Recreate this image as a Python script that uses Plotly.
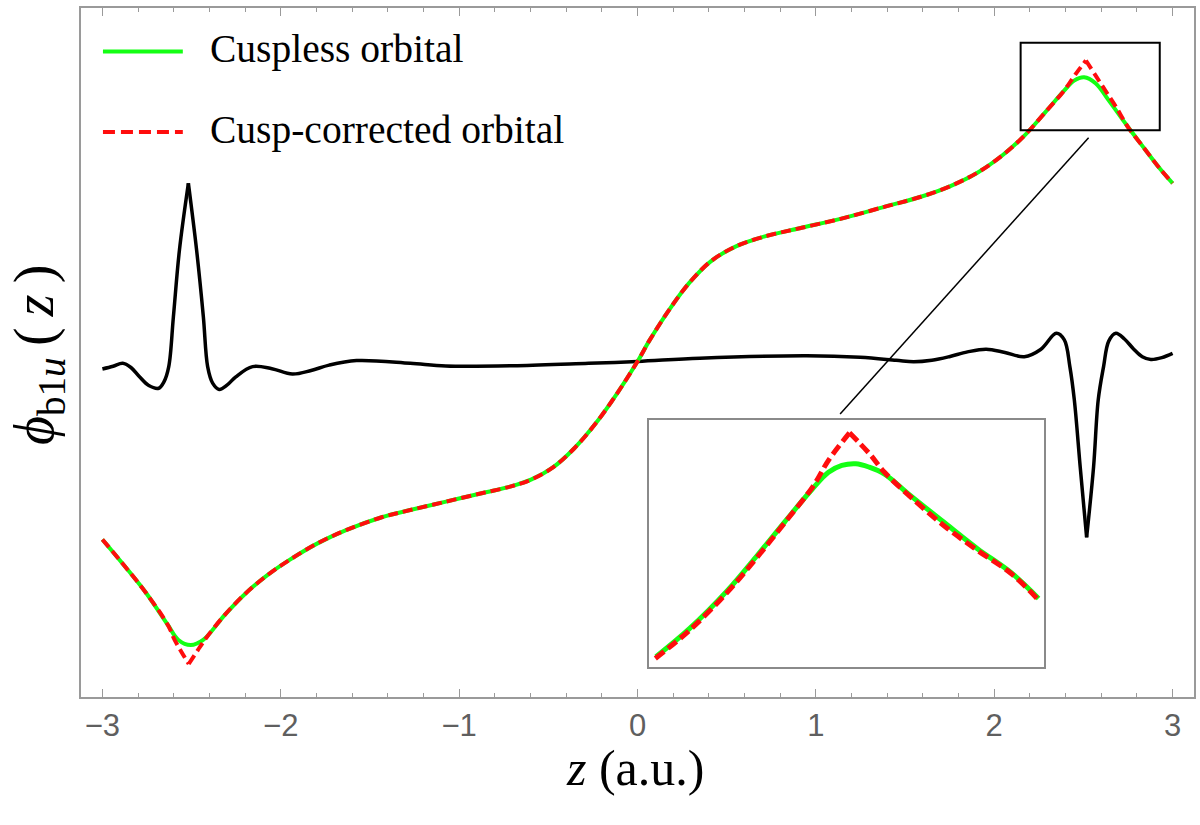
import plotly.graph_objects as go

# ---------------- data ----------------
# Cuspless orbital (green)
z_cuspless = [-3.0, -2.872, -2.753, -2.633, -2.574, -2.505, -2.435, -2.315, -2.196, -2.075,
              -1.953, -1.794, -1.634, -1.434, -1.274, -1.074, -0.874, -0.714, -0.594, -0.474,
              -0.354, -0.234, -0.114, 0.0, 0.069, 0.190, 0.289, 0.409, 0.549, 0.709,
              0.909, 1.149, 1.388, 1.589, 1.748, 1.908, 2.048, 2.168, 2.288, 2.388,
              2.448, 2.504, 2.568, 2.647, 2.748, 2.848, 2.927, 3.0]
phi_cuspless = [-0.593, -0.684, -0.773, -0.878, -0.928, -0.945, -0.928, -0.845, -0.772, -0.712,
                -0.662, -0.606, -0.562, -0.519, -0.495, -0.467, -0.439, -0.417, -0.393, -0.353,
                -0.289, -0.206, -0.106, 0.0, 0.072, 0.183, 0.261, 0.333, 0.383, 0.416,
                0.444, 0.477, 0.516, 0.549, 0.583, 0.630, 0.688, 0.752, 0.832, 0.900,
                0.936, 0.947, 0.927, 0.866, 0.783, 0.705, 0.644, 0.594]

# Cusp-corrected orbital (red dashed)
z_corrected = [-3.0, -2.872, -2.753, -2.633, -2.593, -2.516, -2.453, -2.413, -2.315, -2.196,
               -2.075, -1.953, -1.794, -1.634, -1.434, -1.274, -1.074, -0.874, -0.714, -0.594,
               -0.474, -0.354, -0.234, -0.114, 0.0, 0.069, 0.190, 0.289, 0.409, 0.549,
               0.709, 0.909, 1.149, 1.388, 1.589, 1.748, 1.908, 2.048, 2.168, 2.288,
               2.388, 2.453, 2.514, 2.566, 2.623, 2.679, 2.748, 2.848, 2.927, 3.0]
phi_corrected = [-0.593, -0.684, -0.773, -0.878, -0.930, -1.008, -0.951, -0.917, -0.845, -0.772,
                 -0.712, -0.662, -0.606, -0.562, -0.519, -0.495, -0.467, -0.439, -0.417, -0.393,
                 -0.353, -0.289, -0.206, -0.106, 0.0, 0.072, 0.183, 0.261, 0.333, 0.383,
                 0.416, 0.444, 0.477, 0.516, 0.549, 0.583, 0.630, 0.688, 0.752, 0.832,
                 0.900, 0.955, 1.003, 0.955, 0.903, 0.852, 0.783, 0.705, 0.644, 0.594]
cusp_z = [-2.516, 2.514]

# Difference curve (black)
z_diff = [-3.0, -2.94, -2.886, -2.84, -2.792, -2.74, -2.684, -2.655, -2.628, -2.602,
          -2.568, -2.518, -2.472, -2.434, -2.410, -2.382, -2.345, -2.30, -2.252, -2.158,
          -2.05, -1.935, -1.83, -1.729, -1.575, -1.274, -1.074, -0.674, -0.274, 0.0,
          0.349, 0.949, 1.248, 1.45, 1.548, 1.65, 1.748, 1.85, 1.955, 2.06,
          2.169, 2.26, 2.348, 2.393, 2.424, 2.449, 2.482, 2.518, 2.557, 2.583,
          2.613, 2.642, 2.682, 2.73, 2.781, 2.83, 2.878, 2.94, 3.0]
phi_diff = [-0.025, -0.016, -0.006, -0.020, -0.051, -0.080, -0.089, -0.068, -0.017, 0.149,
            0.372, 0.594, 0.372, 0.149, -0.017, -0.072, -0.093, -0.078, -0.051, -0.017,
            -0.024, -0.042, -0.030, -0.012, 0.003, -0.006, -0.015, -0.014, -0.006, 0.0,
            0.011, 0.019, 0.014, 0.004, -0.001, 0.004, 0.016, 0.032, 0.041, 0.030,
            0.016, 0.040, 0.094, 0.072, -0.017, -0.128, -0.351, -0.586, -0.351, -0.128,
            -0.017, 0.068, 0.094, 0.075, 0.042, 0.016, 0.007, 0.013, 0.027]
diff_tips = [-2.518, 2.518]

# Inset (magnified view of the nuclear cusp)
z_inset_cuspless = [2.819, 2.766, 2.707, 2.660, 2.617, 2.574, 2.548, 2.527, 2.505, 2.484,
                    2.460, 2.421, 2.367, 2.314, 2.261, 2.218]
phi_inset_cuspless = [0.742, 0.775, 0.819, 0.860, 0.899, 0.937, 0.957, 0.965, 0.967, 0.963,
                      0.955, 0.931, 0.899, 0.868, 0.840, 0.810]
z_inset_corrected = [2.820, 2.766, 2.707, 2.660, 2.617, 2.572, 2.548, 2.515, 2.484, 2.460,
                     2.420, 2.367, 2.314, 2.261, 2.218]
phi_inset_corrected = [0.740, 0.773, 0.817, 0.858, 0.898, 0.941, 0.971, 1.003, 0.979, 0.957,
                       0.929, 0.895, 0.866, 0.839, 0.808]
inset_cusp_z = [2.515]

x_ticks = [-3, -2, -1, 0, 1, 2, 3]
legend_labels = ["Cuspless orbital", "Cusp-corrected orbital"]


def split_at(zs, ys, tips):
    """Break a curve at cusp points so the spline keeps a sharp corner."""
    out_z, out_y = [], []
    for z, y in zip(zs, ys):
        out_z.append(z)
        out_y.append(y)
        if any(abs(z - t) < 1e-6 for t in tips):
            out_z += [None, z]
            out_y += [None, y]
    return out_z, out_y


GREEN = "#14ff14"
RED = "#ff0d0d"
FRAME = "#9a9a9a"
SERIF = "Liberation Serif, Times New Roman, serif"
SANS = "Liberation Sans, Arial, sans-serif"

fig = go.Figure()

zd, yd = split_at(z_diff, phi_diff, diff_tips)
fig.add_trace(go.Scatter(x=zd, y=yd, mode="lines",
                         line=dict(color="black", width=3.5, shape="spline", smoothing=1.0),
                         showlegend=False, hoverinfo="skip", xaxis="x", yaxis="y"))
fig.add_trace(go.Scatter(x=z_cuspless, y=phi_cuspless, mode="lines",
                         line=dict(color=GREEN, width=4, shape="spline", smoothing=1.0),
                         showlegend=False, xaxis="x", yaxis="y"))
zr, yr = split_at(z_corrected, phi_corrected, cusp_z)
fig.add_trace(go.Scatter(x=zr, y=yr, mode="lines",
                         line=dict(color=RED, width=4, dash="10px,5px", shape="spline", smoothing=1.0),
                         showlegend=False, xaxis="x", yaxis="y"))

# inset
fig.add_trace(go.Scatter(x=z_inset_cuspless, y=phi_inset_cuspless, mode="lines",
                         line=dict(color=GREEN, width=5, shape="spline", smoothing=1.0),
                         showlegend=False, xaxis="x2", yaxis="y2"))
zi, yi = split_at(z_inset_corrected, phi_inset_corrected, inset_cusp_z)
fig.add_trace(go.Scatter(x=zi, y=yi, mode="lines",
                         line=dict(color=RED, width=5, dash="11px,5px", shape="spline", smoothing=1.0),
                         showlegend=False, xaxis="x2", yaxis="y2"))

# plot area in pixels: x 81..1196, y 8..697
L, R, T, B = 81, 1196, 8, 697
W, H = R - L, B - T


def px(xp):
    return (xp - L) / W


def py(yp):
    return (B - yp) / H


fig.update_layout(
    width=1200, height=825,
    margin=dict(l=L, r=1200 - R, t=T, b=825 - B),
    paper_bgcolor="white", plot_bgcolor="white",
    showlegend=False,
    xaxis=dict(range=[-3.12, 3.12], domain=[0, 1], tickvals=x_ticks,
               ticktext=["\u22123", "\u22122", "\u22121", "0", "1", "2", "3"],
               ticks="inside", ticklen=8, tickwidth=1, tickcolor=FRAME,
               minor=dict(ticks="inside", dtick=0.2, ticklen=4.5, tickwidth=1, tickcolor=FRAME),
               showline=True, linecolor=FRAME, linewidth=1.5, mirror="allticks",
               showgrid=False, zeroline=False,
               tickfont=dict(family=SANS, size=31, color="#5f5f5f")),
    yaxis=dict(range=[-1.118, 1.178], domain=[0, 1], showticklabels=False, ticks="",
               showline=True, linecolor=FRAME, linewidth=1.5, mirror=True,
               showgrid=False, zeroline=False),
    xaxis2=dict(domain=[px(650), px(1046)], range=[2.830, 2.209], anchor="y2",
                showline=True, linecolor="#8a8a8a", linewidth=1.5, mirror=True,
                showticklabels=False, ticks="", showgrid=False, zeroline=False),
    yaxis2=dict(domain=[py(667), py(420)], range=[0.730, 1.018], anchor="x2",
                showline=True, linecolor="#8a8a8a", linewidth=1.5, mirror=True,
                showticklabels=False, ticks="", showgrid=False, zeroline=False),
)

# zoom rectangle and connector
fig.add_shape(type="rect", xref="x", yref="y", x0=2.148, x1=2.928, y0=0.771, y1=1.062,
              line=dict(color="black", width=2), fillcolor="rgba(0,0,0,0)")
fig.add_shape(type="line", xref="x", yref="y", x0=2.529, y0=0.746, x1=1.136, y1=-0.175,
              line=dict(color="black", width=1.5))

# legend drawn by hand (long sample lines like the reference)
fig.add_shape(type="line", xref="paper", yref="paper", x0=px(103), x1=px(183), y0=py(51.5), y1=py(51.5),
              line=dict(color=GREEN, width=4))
fig.add_shape(type="line", xref="paper", yref="paper", x0=px(103), x1=px(183), y0=py(132), y1=py(132),
              line=dict(color=RED, width=4, dash="12px,6px"))
fig.add_annotation(xref="paper", yref="paper", x=px(208), y=py(49), xanchor="left", yanchor="middle",
                   text=legend_labels[0], showarrow=False, font=dict(family=SERIF, size=39.5, color="black"))
fig.add_annotation(xref="paper", yref="paper", x=px(208), y=py(130), xanchor="left", yanchor="middle",
                   text=legend_labels[1], showarrow=False, font=dict(family=SERIF, size=39.5, color="black"))

# axis titles
fig.add_annotation(xref="paper", yref="paper", x=px(636), y=py(768), xanchor="center", yanchor="middle",
                   text="<i>z</i> (a.u.)", showarrow=False, font=dict(family=SERIF, size=50, color="black"))
fig.add_annotation(xref="paper", yref="paper", x=px(38), y=py(355), xanchor="center", yanchor="middle",
                   text="<i>\u03d5</i><sub>b1<i>u</i></sub>\u2009(\u2009<i>z</i>\u2009)", textangle=-90,
                   showarrow=False, font=dict(family=SERIF, size=56, color="black"))

fig.write_html("out.html")
